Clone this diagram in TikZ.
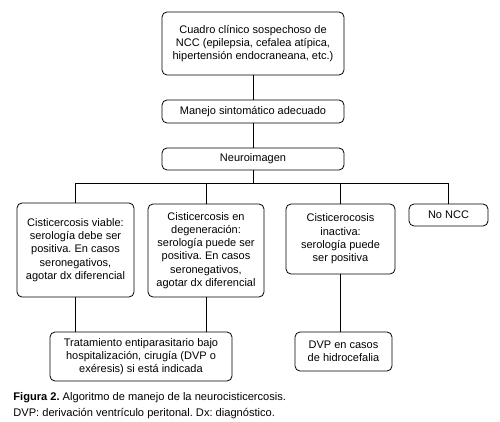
\documentclass[tikz,border=0pt]{standalone}
\usepackage{fontspec}
\setmainfont{Liberation Sans}
\frenchspacing
\tikzset{caja/.style={draw=black, line width=0.8pt, rounded corners=5pt, align=center, inner sep=2pt,
    font=\fontsize{11}{13.3}\selectfont}}

\begin{document}
\begin{tikzpicture}[x=1pt, y=-1pt, line width=0.8pt]
    \useasboundingbox (0,0) rectangle (500,422);

    \node[caja, minimum width=182pt, minimum height=63pt] (cuadro) at (253,43.5) {Cuadro clínico sospechoso de\\NCC (epilepsia, cefalea atípica,\\hipertensión endocraneana, etc.)};
    \node[caja, minimum width=182pt, minimum height=23pt] (manejo) at (253,111.5) {Manejo sintomático adecuado};
    \node[caja, minimum width=182pt, minimum height=22pt] (neuro) at (253,159) {Neuroimagen};
    \coordinate (bus) at (253,183);

    \node[caja, minimum width=117pt, minimum height=94pt] (viable) at (75.5,250) {Cisticercosis viable:\\serología debe ser\\positiva. En casos\\seronegativos,\\agotar dx diferencial};
    \node[caja, minimum width=116pt, minimum height=93pt] (degen) at (206,250.5) {Cisticercosis en\\degeneración:\\serología puede ser\\positiva. En casos\\seronegativos,\\agotar dx diferencial};
    \node[caja, minimum width=109pt, minimum height=70pt] (inactiva) at (340.5,239) {Cisticerocosis\\inactiva:\\serología puede\\ser positiva};
    \node[caja, minimum width=79pt, minimum height=22pt] (noncc) at (448.5,215) {No NCC};

    \node[caja, minimum width=182pt, minimum height=49pt] (trat) at (141,356.5) {Tratamiento entiparasitario bajo\\hospitalización, cirugía (DVP o\\exéresis) si está indicada};
    \node[caja, minimum width=97pt, minimum height=39pt] (dvp) at (343.5,351.5) {DVP en casos\\de hidrocefalia};

    \node[anchor=north west, align=left, inner sep=0pt, font=\fontsize{11.1}{16}\selectfont] (pie) at (13,392.5) {\textbf{Figura 2.} Algoritmo de manejo de la neurocisticercosis.\\DVP: derivación ventrículo peritonal. Dx: diagnóstico.};

    \draw (cuadro) -- (manejo);
    \draw (manejo) -- (neuro);
    \draw (neuro) -- (bus);
    \draw (viable.north |- bus) -- (noncc.north |- bus);
    \draw (viable.north) -- (viable.north |- bus);
    \draw (degen.north) -- (degen.north |- bus);
    \draw (inactiva.north) -- (inactiva.north |- bus);
    \draw (noncc.north) -- (noncc.north |- bus);
    \draw (viable.south) -- (viable.south |- trat.north);
    \draw (degen.south) -- (degen.south |- trat.north);
    \draw (inactiva.south) -- (dvp.north -| inactiva.south);

\end{tikzpicture}
\end{document}
